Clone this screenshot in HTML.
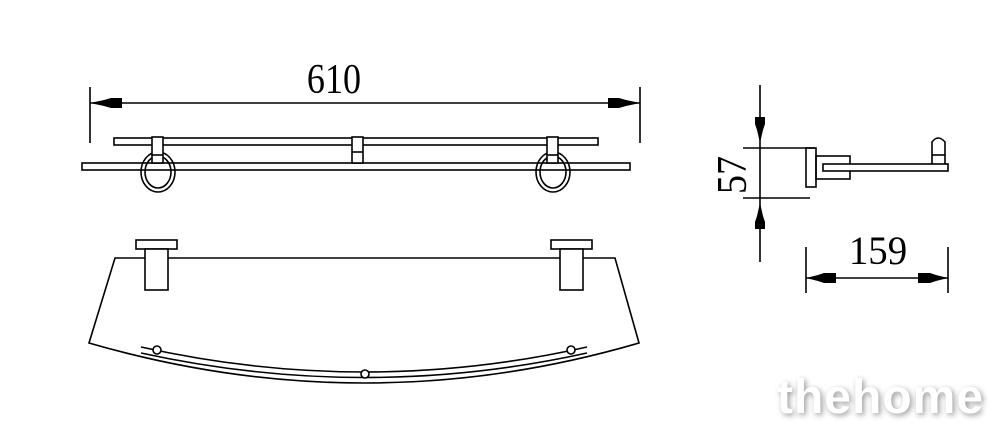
<!DOCTYPE html>
<html><head><meta charset="utf-8"><style>
html,body{margin:0;padding:0;background:#fff;}
svg{display:block}
</style></head><body>
<svg width="1000" height="438" viewBox="0 0 1000 438" xmlns="http://www.w3.org/2000/svg">
<g stroke="#000" stroke-width="1.6" fill="none">
<line x1="90" y1="87" x2="90" y2="143"/>
<line x1="640" y1="87" x2="640" y2="143"/>
<line x1="90" y1="103" x2="640" y2="103"/>
<rect x="114" y="138" width="484" height="7"/>
<rect x="82" y="163" width="548" height="7"/>
<ellipse cx="158" cy="172" rx="17" ry="20"/>
<ellipse cx="158" cy="172" rx="13" ry="16"/>
<ellipse cx="553" cy="172" rx="17" ry="20"/>
<ellipse cx="553" cy="172" rx="13" ry="16"/>
<rect x="152" y="137" width="11" height="26" fill="#fff"/>
<line x1="152" y1="155" x2="163" y2="155"/>
<rect x="547" y="137" width="11" height="26" fill="#fff"/>
<line x1="547" y1="155" x2="558" y2="155"/>
<rect x="352" y="137" width="11" height="26" fill="#fff"/>
<line x1="352" y1="152" x2="363" y2="152"/>
<path d="M115 258 L615 258 L639 343 Q365 423 89 343 Z"/>
<path d="M141 347 Q365 397 587 347"/>
<path d="M141 353 Q365 402 587 353"/>
<rect x="136" y="240" width="41" height="9" fill="#fff"/>
<rect x="145" y="249" width="23" height="41" fill="#fff"/>
<rect x="551" y="240" width="41" height="9" fill="#fff"/>
<rect x="560" y="249" width="23" height="41" fill="#fff"/>
<circle cx="157" cy="350" r="4" fill="#fff"/>
<circle cx="365" cy="374" r="4" fill="#fff"/>
<circle cx="571" cy="350" r="4" fill="#fff"/>
<line x1="760" y1="85" x2="760" y2="262"/>
<line x1="743" y1="148" x2="815" y2="148"/>
<line x1="743" y1="198" x2="810" y2="198"/>
<rect x="806" y="148" width="10" height="39"/>
<rect x="816" y="156" width="34" height="23"/>
<rect x="823" y="164" width="125" height="7" fill="#fff"/>
<path d="M932 164 L932 142 Q938 134 945 142 L945 164"/>
<line x1="932" y1="155" x2="945" y2="155"/>
<line x1="806" y1="247" x2="806" y2="293"/>
<line x1="948" y1="247" x2="948" y2="293"/>
<line x1="806" y1="278" x2="948" y2="278"/>
</g>
<g fill="#000">
<polygon points="90,103 104,100 111,98 122,98 122,108 111,108 104,106"/>
<polygon points="640,103 626,100 619,98 608,98 608,108 619,108 626,106"/>
<polygon points="760,143 757,130 755,124 755,117 765,117 765,124 763,130"/>
<polygon points="760,203 757,216 755,222 755,229 765,229 765,222 763,216"/>
<polygon points="806,278 818,275 824,273 836,273 836,283 824,283 818,281"/>
<polygon points="948,278 936,275 930,273 918,273 918,283 930,283 936,281"/>
</g>
<g font-family="'Liberation Serif',serif" fill="#000">
<text transform="translate(334,93) scale(0.95,1.1)" font-size="38" text-anchor="middle">610</text>
<text transform="translate(878,264) scale(1.05,1.1)" font-size="37" text-anchor="middle">159</text>
<text transform="translate(746,175) rotate(-90) scale(1,1.1)" font-size="38" text-anchor="middle">57</text>
</g>
<text x="777" y="413" font-family="'Liberation Sans',sans-serif" font-weight="bold" font-size="48" letter-spacing="1" fill="#fff" style="filter:drop-shadow(2px 2px 3px rgba(0,0,0,0.4))">thehome</text>
</svg>
</body></html>
